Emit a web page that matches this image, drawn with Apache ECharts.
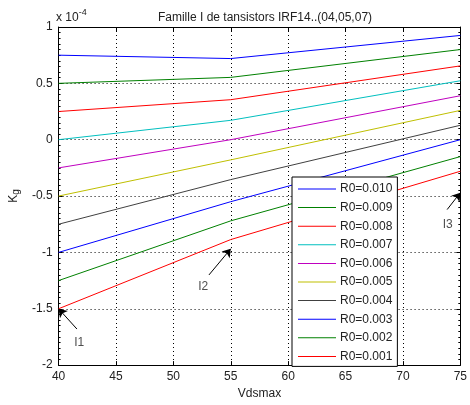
<!DOCTYPE html>
<html><head><meta charset="utf-8">
<script src="https://cdn.jsdelivr.net/npm/echarts@6/dist/echarts.min.js"></script>
<style>html,body{margin:0;padding:0;background:#fff}#c{width:470px;height:405px}</style>
</head><body><div id="c"></div>
<script>
// Data (Kg in units of 1e-4)
const vdsmax = [40, 55, 75];
const r0_010 = [0.75, 0.72, 0.925];
const r0_009 = [0.50, 0.553, 0.80];
const r0_008 = [0.25, 0.355, 0.655];
const r0_007 = [0.0, 0.172, 0.523];
const r0_006 = [-0.25, 0.0, 0.39];
const r0_005 = [-0.5, -0.179, 0.26];
const r0_004 = [-0.75, -0.354, 0.128];
const r0_003 = [-1.0, -0.55, 0.0];
const r0_002 = [-1.25, -0.72, -0.15];
const r0_001 = [-1.5, -0.886, -0.28];
const seriesNames = ['R0=0.010','R0=0.009','R0=0.008','R0=0.007','R0=0.006','R0=0.005','R0=0.004','R0=0.003','R0=0.002','R0=0.001'];
const seriesValues = [r0_010, r0_009, r0_008, r0_007, r0_006, r0_005, r0_004, r0_003, r0_002, r0_001];
const xTicks = [40, 45, 50, 55, 60, 65, 70, 75];
const yTicks = [-2, -1.5, -1, -0.5, 0, 0.5, 1];
// annotations (data coordinates)
const annotNames = ['I1', 'I2', 'I3'];
const annotTips = [[40, -1.5], [55, -0.968], [75, -0.47]];
const annotTails = [[41.6, -1.68], [53.1, -1.2], [73.85, -0.62]];
const annotLabels = [[41.8, -1.8], [52.6, -1.3], [73.9, -0.75]];

const colors = ['#0000ff','#008000','#ff0000','#00bfbf','#bf00bf','#bfbf00','#404040','#0000ff','#008000','#ff0000'];
const FONT = 'Liberation Sans, Arial, sans-serif';

const chart = echarts.init(document.getElementById('c'), null, {renderer:'canvas'});
const series = seriesNames.map((n, i) => ({
  name: n, type: 'line', symbol: 'none', silent: true,
  data: vdsmax.map((x, j) => [x, seriesValues[i][j]]),
  lineStyle: {color: colors[i], width: 1}, itemStyle: {color: colors[i]},
  z: 3
}));
series.push({
  type: 'line', data: [], silent: true, z: 5,
  markLine: {
    silent: true, symbol: ['none', 'arrow'], symbolSize: 8,
    lineStyle: {color: '#000', width: 1, type: 'solid', opacity: 1},
    emphasis: {disabled: true},
    label: {show: false},
    data: annotNames.map((n, i) => [{coord: annotTails[i]}, {coord: annotTips[i]}])
  }
});
series.push({
  type: 'scatter', symbolSize: 0, silent: true, clip: false,
  data: annotNames.map((n, i) => ({name: n, value: annotLabels[i]})),
  label: {show: true, position: 'inside', formatter: p => p.name, color: '#222', fontSize: 12, fontFamily: FONT}
});

const axisLine = {show: true, onZero: false, lineStyle: {color: '#000', width: 1}};
chart.setOption({
  animation: false,
  backgroundColor: '#fff',
  title: {text: 'Famille I de tansistors IRF14..(04,05,07)', left: 260, top: 7, textAlign: 'center',
    textStyle: {fontSize: 12, fontWeight: 'normal', color: '#222', fontFamily: FONT}},
  graphic: [{type: 'text', left: 56, top: 8, style: {
    text: '{a|x 10}{b|-4}', rich: {a: {fontSize: 12, fontFamily: FONT, fill: '#222', padding: [4, 0, 0, 0]}, b: {fontSize: 9, fontFamily: FONT, fill: '#222', verticalAlign: 'top'}}}}],
  grid: {left: 57, right: 3, top: 27, bottom: 36},
  legend: {
    data: seriesNames, orient: 'vertical', left: 292, top: 177,
    backgroundColor: '#fff', borderColor: '#000', borderWidth: 1,
    padding: [6, 5, 4, 6], itemWidth: 38, itemHeight: 1, itemGap: 6.6, icon: 'rect',
    textStyle: {fontSize: 12, color: '#222', fontFamily: FONT, padding: [0, 0, 0, -1]},
    selectedMode: false
  },
  xAxis: [{
    type: 'value', min: 40, max: 75, interval: 5, position: 'bottom',
    axisLine: axisLine, axisTick: {show: true, inside: true, length: 4, lineStyle: {color: '#000'}},
    axisLabel: {fontSize: 12, color: '#222', fontFamily: FONT, margin: 6, formatter: v => xTicks.includes(v) ? String(v) : ''},
    splitLine: {show: true, lineStyle: {color: '#000', type: [1, 3], width: 1}},
    name: 'Vdsmax', nameLocation: 'middle', nameGap: 22,
    nameTextStyle: {fontSize: 12, color: '#222', fontFamily: FONT}
  }, {
    type: 'value', min: 40, max: 75, interval: 5, position: 'top',
    axisLine: axisLine, axisTick: {show: true, inside: true, length: 4, lineStyle: {color: '#000'}},
    axisLabel: {show: false}, splitLine: {show: false}
  }],
  yAxis: [{
    type: 'value', min: -2, max: 1, interval: 0.5, position: 'left',
    axisLine: axisLine, axisTick: {show: true, inside: true, length: 4, lineStyle: {color: '#000'}},
    minorTick: {show: true, splitNumber: 10, length: 2, lineStyle: {color: '#000'}},
    axisLabel: {fontSize: 12, color: '#222', fontFamily: FONT, margin: 6, formatter: v => yTicks.includes(v) ? String(v) : ''},
    splitLine: {show: true, lineStyle: {color: '#000', type: [1, 3], width: 1}},
    name: '{k|K}{g|g}', nameLocation: 'middle', nameGap: 30, nameRotate: 90,
    nameTextStyle: {rich: {k: {fontSize: 12, color: '#222', fontFamily: FONT}, g: {fontSize: 10, color: '#222', fontFamily: FONT, padding: [4, 0, 0, 0]}}}
  }, {
    type: 'value', min: -2, max: 1, interval: 0.5, position: 'right',
    axisLine: axisLine, axisTick: {show: true, inside: true, length: 4, lineStyle: {color: '#000'}},
    minorTick: {show: true, splitNumber: 10, length: 2, lineStyle: {color: '#000'}},
    axisLabel: {show: false}, splitLine: {show: false}
  }],
  series: series
});
</script></body></html>
